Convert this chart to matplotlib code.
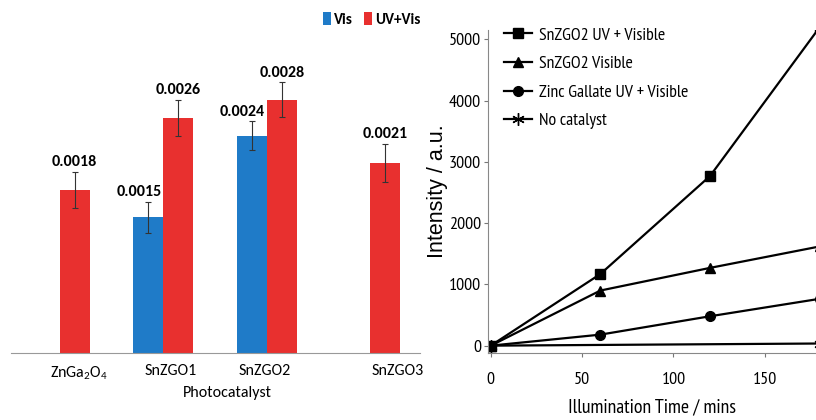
import numpy as np
import matplotlib
matplotlib.use('Agg')
import matplotlib.pyplot as plt

# ---- bar chart data ----
catalysts = ['ZnGa$_2$O$_4$', 'SnZGO1', 'SnZGO2', 'SnZGO3']
vis_rate = [np.nan, 0.0015, 0.0024, np.nan]
vis_err = [0, 0.00017, 0.00016, 0]
uvvis_rate = [0.0018, 0.0026, 0.0028, 0.0021]
uvvis_err = [0.0002, 0.0002, 0.00019, 0.00021]

# ---- line chart data ----
t_sn_uv = [0, 60, 120, 180]
i_sn_uv = [0, 1170, 2770, 5200]
t_sn_vis = [0, 60, 120, 180]
i_sn_vis = [0, 900, 1270, 1620]
t_zg_uv = [0, 60, 120, 180]
i_zg_uv = [0, 180, 480, 765]
t_blank = [0, 180]
i_blank = [0, 35]

calib = ['Carlito', 'DejaVu Sans']
narrow = ['PT Sans Narrow', 'DejaVu Sans']
plt.rcParams['mathtext.fontset'] = 'custom'
plt.rcParams['mathtext.rm'] = 'Carlito'
plt.rcParams['mathtext.it'] = 'Carlito'
blue = '#1f7bc8'
red = '#e8302f'

fig = plt.figure(figsize=(8.16, 4.2), dpi=100)

# left: bar chart
ax1 = fig.add_axes([11/816, 1-353/420, 409/816, 343/420])
x = np.arange(len(catalysts))
w = 0.29
ax1.bar(x - w/2, vis_rate, w, color=blue, label='Vis')
ax1.bar(x + w/2, uvvis_rate, w, color=red, label='UV+Vis')
ekw = dict(fmt='none', ecolor='#333333', elinewidth=0.8, capsize=2, capthick=0.8)
vmask = ~np.isnan(vis_rate)
ax1.errorbar((x - w/2)[vmask], np.array(vis_rate)[vmask], yerr=np.array(vis_err)[vmask], **ekw)
ax1.errorbar(x + w/2, uvvis_rate, yerr=uvvis_err, **ekw)
for xi, v, e in zip(x, vis_rate, vis_err):
    if not np.isnan(v):
        ax1.text(xi - w/2 - 0.09, v + e + 0.00003, '%.4f' % v, ha='center', va='bottom',
                 fontsize=11.5, fontweight='bold', family=calib)
for xi, v, e in zip(x, uvvis_rate, uvvis_err):
    ax1.text(xi + w/2, v + e + 0.00003, '%.4f' % v, ha='center', va='bottom',
             fontsize=11.5, fontweight='bold', family=calib)
ax1.set_xlim(-0.47, 3.48)
ax1.set_ylim(0, 0.00379)
tick_shift = [0.19, 0.07, -0.02, 0.26]
ax1.set_xticks(x + np.array(tick_shift))
ax1.set_xticklabels(catalysts, fontsize=11.5, family=calib)
ax1.tick_params(axis='x', length=0, pad=8)
ax1.set_yticks([])
ax1.set_xlabel('Photocatalyst', fontsize=11.5, family=calib)
ax1.xaxis.set_label_coords(0.53, -0.095)
for s in ['top', 'right', 'left']:
    ax1.spines[s].set_visible(False)
ax1.spines['bottom'].set_color('#999999')
ax1.legend(loc='upper right', bbox_to_anchor=(1.035, 1.035), ncol=2, frameon=False,
           handlelength=0.55, handleheight=1.0, handletextpad=0.2, columnspacing=0.7,
           prop={'family': calib, 'weight': 'bold', 'size': 11})

# right: intensity vs time
ax2 = fig.add_axes([488/816, 1-353/420, 328/816, 323/420])
ax2.plot(t_sn_uv, i_sn_uv, 'k-', marker='s', ms=7, lw=1.6, label='SnZGO2 UV + Visible')
ax2.plot(t_sn_vis, i_sn_vis, 'k-', marker='^', ms=7, lw=1.6, label='SnZGO2 Visible')
ax2.plot(t_zg_uv, i_zg_uv, 'k-', marker='o', ms=7, lw=1.6, label='Zinc Gallate UV + Visible')
ax2.plot(t_blank, i_blank, 'k-', marker=(6, 2, 0), ms=9, lw=1.6, label='No catalyst')
ax2.set_xlim(-1.5, 178)
ax2.set_ylim(-120, 5155)
ax2.set_xticks([0, 50, 100, 150])
ax2.set_yticks([0, 1000, 2000, 3000, 4000, 5000])
for lab in ax2.get_xticklabels() + ax2.get_yticklabels():
    lab.set_family(narrow)
    lab.set_fontsize(13)
ax2.tick_params(direction='out', length=3, width=0.8, color='#777777', pad=2)
ax2.tick_params(axis='x', pad=11)
for s in ['top', 'right']:
    ax2.spines[s].set_visible(False)
for s in ['left', 'bottom']:
    ax2.spines[s].set_color('#888888')
ax2.set_xlabel('Illumination Time / mins', fontsize=14.3, family=narrow, labelpad=7)
ax2.set_ylabel('Intensity / a.u.', fontsize=15.5, family=['Liberation Sans', 'DejaVu Sans'],
               labelpad=1)
ax2.legend(loc='upper left', bbox_to_anchor=(0.0, 1.058), frameon=False, handlelength=1.6,
           handletextpad=0.35, labelspacing=0.68, prop={'family': narrow, 'size': 12.8})

fig.savefig('out.png', dpi=100)
